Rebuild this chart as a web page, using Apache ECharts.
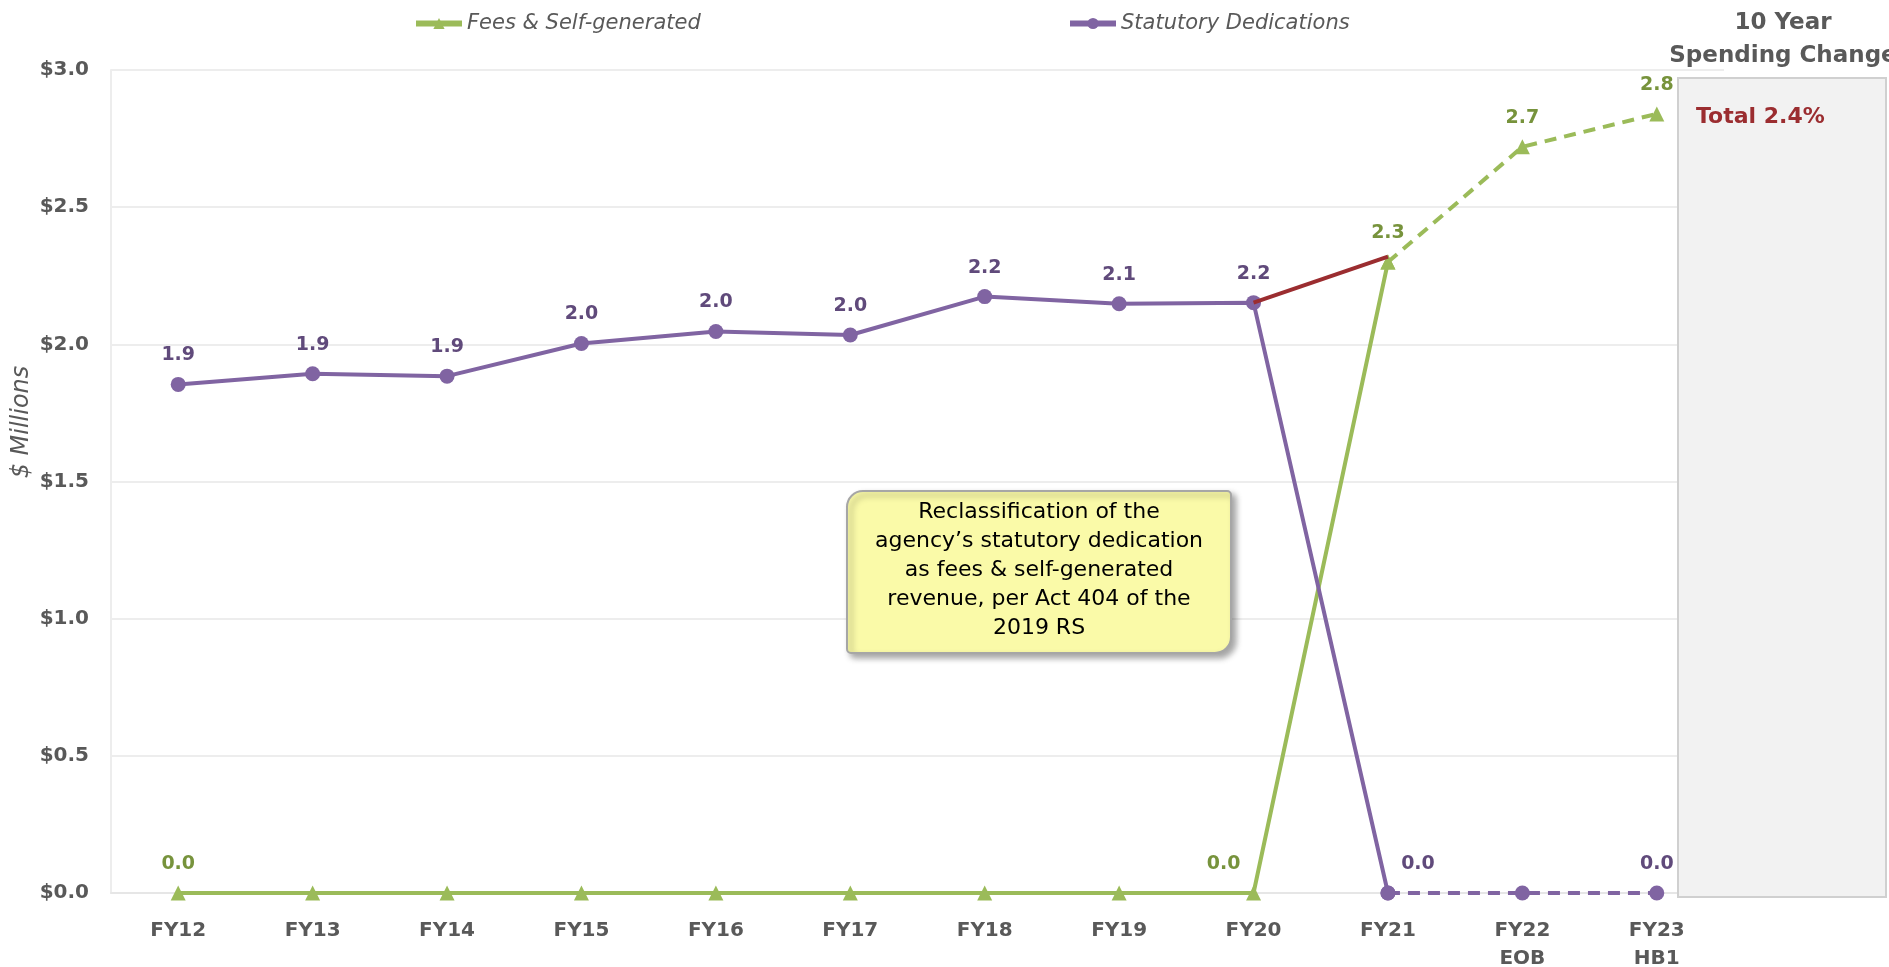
<!DOCTYPE html>
<html>
<head>
<meta charset="utf-8">
<script src="https://cdn.jsdelivr.net/npm/echarts@6/dist/echarts.min.js"></script>
<style>html,body{margin:0;padding:0;background:#fff}#c{width:1889px;height:967px}</style>
</head>
<body>
<div id="c"></div>
<script>
const categories = ['FY12','FY13','FY14','FY15','FY16','FY17','FY18','FY19','FY20','FY21','FY22\nEOB','FY23\nHB1'];
const feesSelfGenerated = [0, 0, 0, 0, 0, 0, 0, 0, 0, 2.30, 2.72, 2.84];
const statutoryDedications = [1.854, 1.893, 1.884, 2.003, 2.047, 2.034, 2.174, 2.148, 2.152, 0, 0, 0];
const totalLine = [null, null, null, null, null, null, null, null, 2.152, 2.32, null, null];
const feesLabelIdx = [0, 8, 9, 10, 11];
const statLabelIdx = [0, 1, 2, 3, 4, 5, 6, 7, 8, 9, 11];
const lastActual = 9; // FY21: solid up to here, dashed after
const yTicks = [0, 0.5, 1.0, 1.5, 2.0, 2.5, 3.0];

const GREEN = '#9BBB59', PURPLE = '#8064A2', RED = '#9B2D30';
const GREEN_LBL = '#77933C', PURPLE_LBL = '#604A7B', GREY = '#595959';
const FONT = 'DejaVu Sans';

function buildData(vals, part, labelIdx, lblColor, offsets) {
  return vals.map((v, i) => {
    const inPart = part === 'solid' ? i <= lastActual : i >= lastActual;
    if (!inPart) return null;
    const show = labelIdx.indexOf(i) >= 0 && (part === 'solid' ? i < lastActual || (i === lastActual && offsets.ownLast) : i > lastActual || (i === lastActual && offsets.ownFirst));
    return {
      value: v,
      label: {
        show: show,
        position: 'top',
        distance: 12,
        offset: offsets[i] || [0, 0],
        formatter: p => p.value.toFixed(1),
        color: lblColor,
        fontFamily: FONT,
        fontWeight: 'bold',
        fontSize: 19
      }
    };
  });
}

const legendText = { fontFamily: FONT, fontStyle: 'italic', fontSize: 21, color: GREY };
const chart = echarts.init(document.getElementById('c'));
chart.setOption({
  animation: false,
  backgroundColor: '#fff',
  grid: { left: 111, right: 165, top: 70, bottom: 74, outerBoundsMode: 'none', containLabel: false },
  legend: [
    {
      data: ['Fees & Self-generated'], left: 408, top: 8, itemWidth: 46, itemHeight: 14,
      lineStyle: { width: 6 }, textStyle: legendText
    },
    {
      data: ['Statutory Dedications'], left: 1062, top: 8, itemWidth: 46, itemHeight: 14,
      lineStyle: { width: 6 }, textStyle: legendText
    }
  ],
  xAxis: {
    type: 'category', data: categories, boundaryGap: true,
    axisLine: { show: true, lineStyle: { color: '#E6E6E6', width: 2 } },
    axisTick: { show: false },
    axisLabel: { margin: 24, color: GREY, fontFamily: FONT, fontWeight: 'bold', fontSize: 20, lineHeight: 28 },
    splitLine: { show: false }
  },
  yAxis: {
    type: 'value', min: yTicks[0], max: yTicks[yTicks.length - 1], interval: 0.5,
    axisLine: { show: true, lineStyle: { color: '#EDEDED', width: 2 } },
    axisTick: { show: false },
    axisLabel: { margin: 22, color: GREY, fontFamily: FONT, fontWeight: 'bold', fontSize: 20, formatter: v => '$' + v.toFixed(1) },
    splitLine: { show: true, lineStyle: { color: '#EDEDED', width: 2 } }
  },
  series: [
    {
      name: 'Fees & Self-generated', type: 'line', z: 3,
      data: buildData(feesSelfGenerated, 'solid', feesLabelIdx, GREEN_LBL, { 8: [-30, 0], ownLast: true }),
      symbol: 'triangle', symbolSize: 15, itemStyle: { color: GREEN },
      lineStyle: { color: GREEN, width: 4 }, connectNulls: false
    },
    {
      name: 'Statutory Dedications', type: 'line', z: 4,
      data: buildData(statutoryDedications, 'solid', statLabelIdx, PURPLE_LBL, { 9: [30, 0], ownLast: true }),
      symbol: 'circle', symbolSize: 15, itemStyle: { color: PURPLE },
      lineStyle: { color: PURPLE, width: 4 }
    },
    {
      name: 'Total', type: 'line', z: 5, data: totalLine, showSymbol: false, symbol: 'none',
      lineStyle: { color: RED, width: 4 }
    },
    {
      name: 'Fees & Self-generated', type: 'line', z: 3,
      data: buildData(feesSelfGenerated, 'dashed', feesLabelIdx, GREEN_LBL, {}),
      symbol: 'triangle', symbolSize: 15, itemStyle: { color: GREEN },
      lineStyle: { color: GREEN, width: 4, type: [12, 8] }
    },
    {
      name: 'Statutory Dedications', type: 'line', z: 4,
      data: buildData(statutoryDedications, 'dashed', statLabelIdx, PURPLE_LBL, {}),
      symbol: 'circle', symbolSize: 15, itemStyle: { color: PURPLE },
      lineStyle: { color: PURPLE, width: 4, type: [12, 8] }
    }
  ],
  graphic: [
    {
      type: 'text', z: 2, silent: true, x: 22, y: 422, rotation: Math.PI / 2,
      style: { text: '$ Millions', fill: GREY, font: 'italic 24px "DejaVu Sans"', align: 'center', verticalAlign: 'middle' }
    },
    {
      type: 'rect', z: 1, silent: true,
      shape: { x: 1678, y: 78, width: 208, height: 819 },
      style: { fill: '#F2F2F2', stroke: '#D0D0D0', lineWidth: 2 }
    },
    {
      type: 'text', z: 2, silent: true, left: 1696, top: 106,
      style: { text: 'Total 2.4%', fill: RED, font: 'bold 22px "DejaVu Sans"' }
    },
    {
      type: 'text', z: 2, silent: true, x: 1783, y: 7,
      style: { text: '10 Year\nSpending Change', fill: GREY, font: 'bold 23px "DejaVu Sans"', align: 'center', lineHeight: 33 }
    },
    {
      type: 'rect', z: 10, silent: true,
      shape: { x: 847, y: 491, width: 384, height: 162, r: [16, 4, 16, 4] },
      style: { fill: '#FAFAA8', stroke: '#A6A6A6', lineWidth: 2, shadowBlur: 6, shadowOffsetX: 4, shadowOffsetY: 4, shadowColor: 'rgba(0,0,0,0.35)' }
    },
    {
      type: 'text', z: 11, silent: true, x: 1039, y: 498,
      style: {
        text: 'Reclassification of the\nagency\u2019s statutory dedication\nas fees & self-generated\nrevenue, per Act 404 of the\n2019 RS',
        fill: '#000', font: '22px "DejaVu Sans"', align: 'center', lineHeight: 29
      }
    }
  ]
});
</script>
</body>
</html>
